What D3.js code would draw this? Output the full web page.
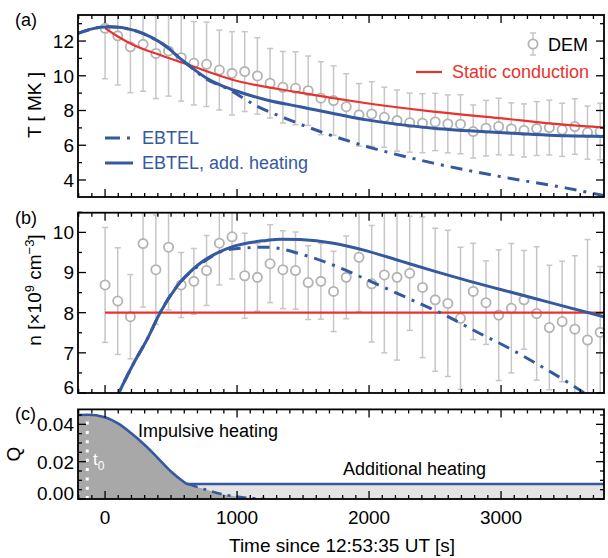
<!DOCTYPE html>
<html>
<head>
<meta charset="utf-8">
<script src="https://cdn.jsdelivr.net/npm/d3@7"></script>
<style>
body{margin:0;background:#fff}
svg text{font-family:"Liberation Sans",Arial,Helvetica,sans-serif}
</style>
</head>
<body>
<svg id="chart" width="608" height="558"></svg>
<script>
// DEM measurements (time since 12:53:35 UT, seconds)
const demTime = [0,96,192,288,385,481,577,673,769,866,962,1058,1154,1250,1347,1443,1539,1635,1731,1827,
  1924,2020,2116,2212,2308,2405,2501,2597,2693,2789,2886,2982,3078,3174,3270,3366,3463,3559,3655,3751];
const demT = [12.73,12.30,11.67,11.81,11.29,11.43,11.04,10.72,10.66,10.33,10.14,10.24,9.99,9.57,9.34,9.28,9.14,8.71,8.57,8.22,
  7.75,7.80,7.61,7.42,7.30,7.27,7.34,7.23,7.21,6.79,6.98,7.08,6.94,6.85,6.96,7.02,6.89,7.08,6.73,6.79];
const demTErr = [2.9,2.83,2.64,2.7,2.6,2.6,2.5,2.4,2.43,2.3,2.4,2.3,2.2,2.0,2.06,2.1,2.0,2.1,2.0,1.9,
  1.8,1.86,1.73,1.76,1.7,1.7,1.65,1.67,1.7,1.53,1.6,1.63,1.5,1.53,1.55,1.58,1.53,1.6,1.53,1.63];
const demN = [8.69,8.29,7.90,9.72,9.07,9.63,8.69,8.78,9.05,9.73,9.89,8.92,8.88,9.22,9.07,9.05,8.75,8.78,8.53,8.88,
  9.38,8.72,8.94,8.88,8.98,8.63,8.32,8.23,7.86,8.53,8.25,7.94,8.11,8.32,7.98,7.63,7.78,7.59,7.32,7.51];
const demNErr = [1.43,1.33,1.05,1.58,1.36,1.56,0.81,0.82,0.87,1.04,1.05,1.06,0.84,0.97,0.97,0.96,0.92,0.94,1.0,1.03,
  1.35,1.45,1.94,2.06,1.42,1.75,1.78,1.82,1.77,1.2,1.04,1.63,1.61,1.23,1.66,1.55,1.5,1.83,2.5,1.64];

// model curves, temperature [MK]
const staticTime = [0,100,215,417,636,972,1477,1982,2487,2992,3497,3780];
const staticT = [12.75,12.25,11.77,11.2,10.62,9.76,9.03,8.42,7.94,7.56,7.17,7.02];
const ebtelAddTime = [-205,-38,38,215,341,467,568,631,770,871,972,1225,1477,1982,2487,2992,3497,3780];
const ebtelAddT = [12.44,12.79,12.82,12.63,12.25,11.67,11.0,10.62,9.86,9.47,9.18,8.61,8.22,7.46,6.98,6.73,6.54,6.5];
const ebtelTime = [-205,-38,38,215,341,467,568,631,770,922,1149,1376,1629,1982,2487,2992,3497,3780];
const ebtelT = [12.44,12.79,12.82,12.63,12.25,11.67,11.0,10.62,9.8,9.28,8.26,7.52,6.79,5.93,4.97,4.2,3.53,3.1];

// model curves, density [1e9 cm^-3]
const staticNTime = [0,3780];
const staticN = [8,8];
const ebtelAddNTime = [50,101,215,316,417,543,720,972,1225,1326,1477,1730,1982,2235,2487,2765,3018,3270,3523,3780];
const ebtelAddN = [5.62,5.98,6.73,7.32,8.0,8.65,9.23,9.65,9.8,9.83,9.82,9.73,9.54,9.29,9.04,8.78,8.56,8.34,8.12,7.9];
const ebtelNTime = [50,101,215,316,417,543,720,947,1225,1503,1755,2071,2323,2576,2828,3018,3270,3523,3700];
const ebtelN = [5.62,5.98,6.73,7.32,8.0,8.65,9.2,9.58,9.63,9.44,9.15,8.69,8.32,7.94,7.5,7.19,6.73,6.23,5.85];

// heating function Q
const heatTime = [-205,-130,-2,98,199,301,402,502,578,629,755,881,1008,1210];
const heatQ = [0.045,0.0451,0.0438,0.0405,0.0352,0.0289,0.0218,0.0146,0.0102,0.008,0.0052,0.0027,0.0012,0];
const addHeatQ = 0.008;
const t0 = -135;

// ticks
const xTicks = [0,1000,2000,3000];
const tTicks = [4,6,8,10,12];
const nTicks = [6,7,8,9,10];
const qTicks = [0,0.02,0.04];

const blue = "#35599f", red = "#e8322d", grey = "#c6c6c6";
const svg = d3.select("#chart");
const left = 78, right = 604;
const xScale = d3.scaleLinear().domain([-205,3780]).range([left,right]);

const yT = d3.scaleLinear().domain([3.02,13.5]).range([197,15]);
const yN = d3.scaleLinear().domain([6,10.49]).range([393,212.7]);
const yQ = d3.scaleLinear().domain([0,0.048]).range([499,409.4]);

function panel(id, y, major, minor, fmt){
  const [bottom, top] = y.range();
  const g = svg.append("g");
  svg.append("clipPath").attr("id","clip"+id).append("rect")
    .attr("x",left).attr("y",top).attr("width",right-left).attr("height",bottom-top);
  const plot = g.append("g").attr("clip-path","url(#clip"+id+")");
  const axes = g.append("g");
  // x ticks, top and bottom, pointing inside
  const xMinor = d3.range(-200,3800,100);
  axes.selectAll(".xb").data(xMinor).enter().append("line")
    .attr("x1",d=>xScale(d)).attr("x2",d=>xScale(d))
    .attr("y1",bottom).attr("y2",d=>bottom-(xTicks.includes(d)?8:4))
    .attr("stroke","#000").attr("stroke-width",1.3);
  axes.selectAll(".xt").data(xMinor).enter().append("line")
    .attr("x1",d=>xScale(d)).attr("x2",d=>xScale(d))
    .attr("y1",top).attr("y2",d=>top+(xTicks.includes(d)?8:4))
    .attr("stroke","#000").attr("stroke-width",1.3);
  const isMajor = d => major.some(m=>Math.abs(m-d)<1e-9);
  axes.selectAll(".yl").data(minor).enter().append("line")
    .attr("x1",left).attr("x2",d=>left+(isMajor(d)?8:4))
    .attr("y1",d=>y(d)).attr("y2",d=>y(d))
    .attr("stroke","#000").attr("stroke-width",1.3);
  axes.selectAll(".yr").data(minor).enter().append("line")
    .attr("x1",right).attr("x2",d=>right-(isMajor(d)?8:4))
    .attr("y1",d=>y(d)).attr("y2",d=>y(d))
    .attr("stroke","#000").attr("stroke-width",1.3);
  axes.selectAll(".ylab").data(major).enter().append("text")
    .attr("x",74).attr("y",d=>y(d) - (Math.abs(y(d)-bottom)<3?6:0)).attr("dy","0.36em")
    .attr("text-anchor","end").attr("font-size",19).text(fmt);
  axes.append("rect").attr("x",left).attr("y",top).attr("width",right-left).attr("height",bottom-top)
    .attr("fill","none").attr("stroke","#000").attr("stroke-width",1.8);
  g.append("text").attr("x",15).attr("y",top+11).attr("font-size",18).text("("+id+")");
  return plot;
}

function line(y){
  return d3.line().x(d=>xScale(d[0])).y(d=>y(d[1])).curve(d3.curveMonotoneX);
}

function dem(plot, y, vals, errs){
  const data = d3.zip(demTime, vals, errs);
  const eb = plot.append("g").attr("stroke",grey).attr("stroke-width",1.5);
  eb.selectAll(".bar").data(data).enter().append("line")
    .attr("x1",d=>xScale(d[0])).attr("x2",d=>xScale(d[0]))
    .attr("y1",d=>y(d[1]-d[2])).attr("y2",d=>y(d[1]+d[2]));
  eb.selectAll(".capl").data(data).enter().append("line")
    .attr("x1",d=>xScale(d[0])-3).attr("x2",d=>xScale(d[0])+3)
    .attr("y1",d=>y(d[1]-d[2])).attr("y2",d=>y(d[1]-d[2]));
  eb.selectAll(".caph").data(data).enter().append("line")
    .attr("x1",d=>xScale(d[0])-3).attr("x2",d=>xScale(d[0])+3)
    .attr("y1",d=>y(d[1]+d[2])).attr("y2",d=>y(d[1]+d[2]));
  plot.selectAll(".pt").data(data).enter().append("circle")
    .attr("cx",d=>xScale(d[0])).attr("cy",d=>y(d[1])).attr("r",4.6)
    .attr("fill","#fff").attr("stroke","#b3b3b3").attr("stroke-width",1.8);
}

const dash = "12,7,3,7";

// (a) temperature
const pa = panel("a", yT, tTicks, d3.range(4,14,1), d=>d);
dem(pa, yT, demT, demTErr);
pa.append("path").attr("d",line(yT)(d3.zip(staticTime,staticT))).attr("fill","none").attr("stroke",red).attr("stroke-width",2.2);
pa.append("path").attr("d",line(yT)(d3.zip(ebtelTime,ebtelT))).attr("fill","none").attr("stroke",blue).attr("stroke-width",3).attr("stroke-dasharray",dash);
pa.append("path").attr("d",line(yT)(d3.zip(ebtelAddTime,ebtelAddT))).attr("fill","none").attr("stroke",blue).attr("stroke-width",3);

// legend (a)
const lg = svg.append("g");
lg.append("line").attr("x1",533).attr("x2",533).attr("y1",33).attr("y2",55).attr("stroke",grey).attr("stroke-width",1.5);
[33,55].forEach(v=>lg.append("line").attr("x1",530).attr("x2",536).attr("y1",v).attr("y2",v).attr("stroke",grey).attr("stroke-width",1.5));
lg.append("circle").attr("cx",533).attr("cy",44).attr("r",4.6).attr("fill","#fff").attr("stroke","#b3b3b3").attr("stroke-width",1.8);
lg.append("text").attr("x",548).attr("y",45).attr("dy","0.36em").attr("font-size",18).text("DEM");
lg.append("line").attr("x1",416).attr("x2",442).attr("y1",72).attr("y2",72).attr("stroke",red).attr("stroke-width",2.2);
lg.append("text").attr("x",452).attr("y",72).attr("dy","0.36em").attr("font-size",18).attr("fill",red).text("Static conduction");
lg.append("line").attr("x1",105).attr("x2",133).attr("y1",138).attr("y2",138).attr("stroke",blue).attr("stroke-width",3).attr("stroke-dasharray","15,7,3,7");
lg.append("text").attr("x",142).attr("y",138).attr("dy","0.36em").attr("font-size",18).attr("fill",blue).text("EBTEL");
lg.append("line").attr("x1",105).attr("x2",133).attr("y1",163).attr("y2",163).attr("stroke",blue).attr("stroke-width",3);
lg.append("text").attr("x",142).attr("y",163).attr("dy","0.36em").attr("font-size",18).attr("fill",blue).text("EBTEL, add. heating");

// (b) density
const pb = panel("b", yN, nTicks, d3.range(6,10.51,0.5), d=>d);
dem(pb, yN, demN, demNErr);
pb.append("path").attr("d",line(yN)(d3.zip(staticNTime,staticN))).attr("fill","none").attr("stroke",red).attr("stroke-width",2.2);
pb.append("path").attr("d",line(yN)(d3.zip(ebtelNTime,ebtelN))).attr("fill","none").attr("stroke",blue).attr("stroke-width",3).attr("stroke-dasharray",dash);
pb.append("path").attr("d",line(yN)(d3.zip(ebtelAddNTime,ebtelAddN))).attr("fill","none").attr("stroke",blue).attr("stroke-width",3);

// (c) heating
const pc = panel("c", yQ, qTicks, d3.range(0,0.0481,0.005), d3.format(".2f"));
const impulse = d3.zip(heatTime, heatQ);
const total = impulse.filter(d=>d[1]>=addHeatQ).concat([[xScale.domain()[1], addHeatQ]]);
const area = d3.area().x(d=>xScale(d[0])).y0(yQ(0)).y1(d=>yQ(d[1])).curve(d3.curveMonotoneX);
pc.append("path").attr("d",area(total)).attr("fill","#e4e4e4");
pc.append("path").attr("d",area(impulse)).attr("fill","#a8a8a8");
pc.append("line").attr("x1",xScale(t0)).attr("x2",xScale(t0)).attr("y1",yQ(0)).attr("y2",yQ(0.0449))
  .attr("stroke","#fff").attr("stroke-width",3).attr("stroke-dasharray","3,6.3");
pc.append("path").attr("d",line(yQ)(impulse.filter(d=>d[1]<=addHeatQ))).attr("fill","none").attr("stroke",blue).attr("stroke-width",2.6).attr("stroke-dasharray","10,6,3,6");
pc.append("path").attr("d",line(yQ)(total)).attr("fill","none").attr("stroke",blue).attr("stroke-width",2.6);
const t0lab = pc.append("text").attr("x",93).attr("y",465).attr("font-size",17).attr("fill","#fff").text("t");
t0lab.append("tspan").attr("dy",5).attr("font-size",12).text("0");
svg.append("text").attr("x",138).attr("y",437).attr("font-size",18).text("Impulsive heating");
svg.append("text").attr("x",343).attr("y",475).attr("font-size",18).text("Additional heating");

// x tick labels and titles
svg.selectAll(".xlab").data(xTicks).enter().append("text")
  .attr("x",d=>xScale(d)).attr("y",517).attr("dy","0.36em").attr("text-anchor","middle").attr("font-size",19).text(d=>d);
svg.append("text").attr("x",342).attr("y",545).attr("dy","0.36em").attr("text-anchor","middle").attr("font-size",19)
  .text("Time since 12:53:35 UT [s]");
svg.append("text").attr("transform","translate(34,105) rotate(-90)").attr("dy","0.36em").attr("text-anchor","middle")
  .attr("font-size",19).text("T [ MK ]");
const nt = svg.append("text").attr("transform","translate(34,290) rotate(-90)").attr("dy","0.36em").attr("text-anchor","middle").attr("font-size",19);
nt.append("tspan").text("n [\u00d710");
nt.append("tspan").attr("dy",-7).attr("font-size",13).text("9");
nt.append("tspan").attr("dy",7).text(" cm");
nt.append("tspan").attr("dy",-7).attr("font-size",13).text("\u22123");
nt.append("tspan").attr("dy",7).text("]");
svg.append("text").attr("transform","translate(13,454) rotate(-90)").attr("dy","0.36em").attr("text-anchor","middle")
  .attr("font-size",19).text("Q");
</script>
</body>
</html>
